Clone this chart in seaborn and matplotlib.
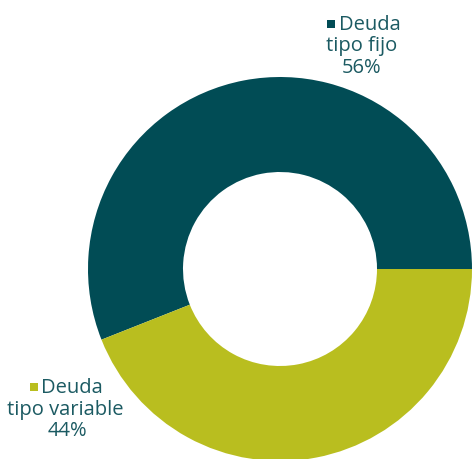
import matplotlib
matplotlib.use("Agg")
import matplotlib.pyplot as plt
import seaborn as sns

categories = ["Deuda\ntipo fijo", "Deuda\ntipo variable"]
values = [56, 44]
colors = ["#014C55", "#B9BE1F"]
text_color = "#1B5A62"

sns.set_theme(style="white")
plt.rcParams['font.family'] = ['Open Sans', 'DejaVu Sans']

W, H = 473, 459
fig = plt.figure(figsize=(W / 100, H / 100), dpi=100)
ax = fig.add_axes([0, 0, 1, 1])

palette = sns.color_palette(colors)
ax.pie(values, colors=palette, startangle=0, counterclock=True,
       center=(280, H - 269), radius=192,
       wedgeprops=dict(width=95, linewidth=0), frame=True)
ax.set_xlim(0, W)
ax.set_ylim(0, H)
ax.set_aspect('equal')
ax.axis('off')

fs = 14.5
# (first-line center x, second-line center x, third-line center x, first baseline y, marker x)
layout = [(370, 362, 362, 30, 331), (72, 65, 67, 393, 34)]
for (x1, x2, x3, by, mx), cat, v, col in zip(layout, categories, values, colors):
    first, second = cat.split("\n")
    ax.text(x1, H - by, first, ha='center', va='baseline', fontsize=fs, color=text_color)
    ax.scatter([mx], [H - by + 6.5], marker='s', s=26, color=col, linewidths=0)
    ax.text(x2, H - by - 21.5, second, ha='center', va='baseline', fontsize=fs, color=text_color)
    ax.text(x3, H - by - 43, f"{v}%", ha='center', va='baseline', fontsize=fs, color=text_color)

fig.savefig("out.png", dpi=100)
